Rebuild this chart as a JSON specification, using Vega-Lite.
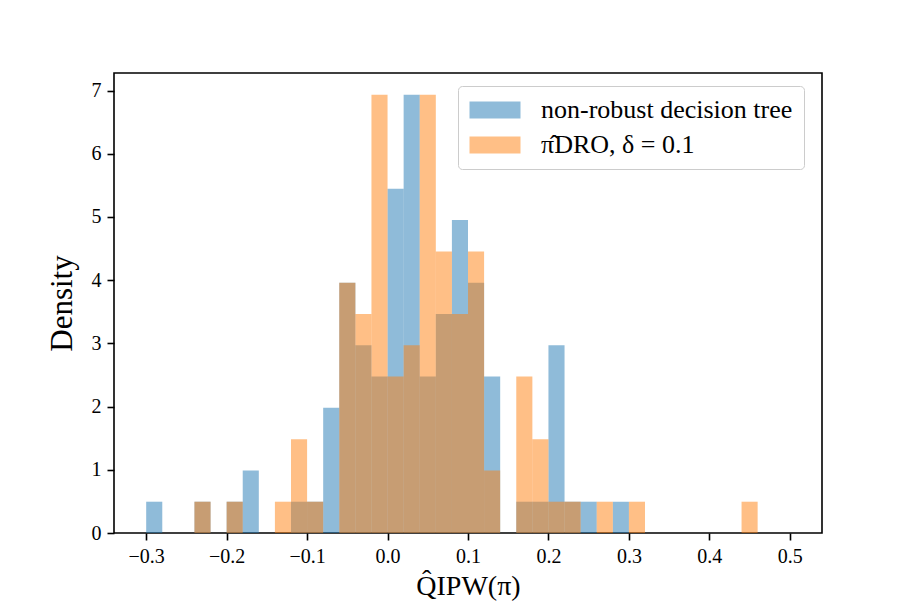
{
  "$schema": "https://vega.github.io/schema/vega-lite/v6.json",
  "width": 708,
  "height": 460,
  "autosize": "none",
  "padding": {"left": 114, "top": 73, "right": 91, "bottom": 76},
  "background": "white",
  "data": {
    "values": [
      {"series": "non-robust decision tree", "x0": -0.30, "x1": -0.28, "density": 0.495},
      {"series": "non-robust decision tree", "x0": -0.24, "x1": -0.22, "density": 0.495},
      {"series": "non-robust decision tree", "x0": -0.20, "x1": -0.18, "density": 0.495},
      {"series": "non-robust decision tree", "x0": -0.18, "x1": -0.16, "density": 0.990},
      {"series": "non-robust decision tree", "x0": -0.12, "x1": -0.10, "density": 0.495},
      {"series": "non-robust decision tree", "x0": -0.10, "x1": -0.08, "density": 0.495},
      {"series": "non-robust decision tree", "x0": -0.08, "x1": -0.06, "density": 1.980},
      {"series": "non-robust decision tree", "x0": -0.06, "x1": -0.04, "density": 3.960},
      {"series": "non-robust decision tree", "x0": -0.04, "x1": -0.02, "density": 2.970},
      {"series": "non-robust decision tree", "x0": -0.02, "x1": 0.00, "density": 2.475},
      {"series": "non-robust decision tree", "x0": 0.00, "x1": 0.02, "density": 5.446},
      {"series": "non-robust decision tree", "x0": 0.02, "x1": 0.04, "density": 6.931},
      {"series": "non-robust decision tree", "x0": 0.04, "x1": 0.06, "density": 2.475},
      {"series": "non-robust decision tree", "x0": 0.06, "x1": 0.08, "density": 3.465},
      {"series": "non-robust decision tree", "x0": 0.08, "x1": 0.10, "density": 4.950},
      {"series": "non-robust decision tree", "x0": 0.10, "x1": 0.12, "density": 3.960},
      {"series": "non-robust decision tree", "x0": 0.12, "x1": 0.14, "density": 2.475},
      {"series": "non-robust decision tree", "x0": 0.16, "x1": 0.18, "density": 0.495},
      {"series": "non-robust decision tree", "x0": 0.18, "x1": 0.20, "density": 0.495},
      {"series": "non-robust decision tree", "x0": 0.20, "x1": 0.22, "density": 2.970},
      {"series": "non-robust decision tree", "x0": 0.22, "x1": 0.24, "density": 0.495},
      {"series": "non-robust decision tree", "x0": 0.24, "x1": 0.26, "density": 0.495},
      {"series": "non-robust decision tree", "x0": 0.28, "x1": 0.30, "density": 0.495},
      {"series": "π̂DRO, δ = 0.1", "x0": -0.24, "x1": -0.22, "density": 0.495},
      {"series": "π̂DRO, δ = 0.1", "x0": -0.20, "x1": -0.18, "density": 0.495},
      {"series": "π̂DRO, δ = 0.1", "x0": -0.14, "x1": -0.12, "density": 0.495},
      {"series": "π̂DRO, δ = 0.1", "x0": -0.12, "x1": -0.10, "density": 1.485},
      {"series": "π̂DRO, δ = 0.1", "x0": -0.10, "x1": -0.08, "density": 0.495},
      {"series": "π̂DRO, δ = 0.1", "x0": -0.06, "x1": -0.04, "density": 3.960},
      {"series": "π̂DRO, δ = 0.1", "x0": -0.04, "x1": -0.02, "density": 3.465},
      {"series": "π̂DRO, δ = 0.1", "x0": -0.02, "x1": 0.00, "density": 6.931},
      {"series": "π̂DRO, δ = 0.1", "x0": 0.00, "x1": 0.02, "density": 2.475},
      {"series": "π̂DRO, δ = 0.1", "x0": 0.02, "x1": 0.04, "density": 2.970},
      {"series": "π̂DRO, δ = 0.1", "x0": 0.04, "x1": 0.06, "density": 6.931},
      {"series": "π̂DRO, δ = 0.1", "x0": 0.06, "x1": 0.08, "density": 4.455},
      {"series": "π̂DRO, δ = 0.1", "x0": 0.08, "x1": 0.10, "density": 3.465},
      {"series": "π̂DRO, δ = 0.1", "x0": 0.10, "x1": 0.12, "density": 4.455},
      {"series": "π̂DRO, δ = 0.1", "x0": 0.12, "x1": 0.14, "density": 0.990},
      {"series": "π̂DRO, δ = 0.1", "x0": 0.16, "x1": 0.18, "density": 2.475},
      {"series": "π̂DRO, δ = 0.1", "x0": 0.18, "x1": 0.20, "density": 1.485},
      {"series": "π̂DRO, δ = 0.1", "x0": 0.20, "x1": 0.22, "density": 0.495},
      {"series": "π̂DRO, δ = 0.1", "x0": 0.22, "x1": 0.24, "density": 0.495},
      {"series": "π̂DRO, δ = 0.1", "x0": 0.26, "x1": 0.28, "density": 0.495},
      {"series": "π̂DRO, δ = 0.1", "x0": 0.30, "x1": 0.32, "density": 0.495},
      {"series": "π̂DRO, δ = 0.1", "x0": 0.44, "x1": 0.46, "density": 0.495}
    ]
  },
  "mark": {"type": "rect", "opacity": 0.5, "strokeWidth": 0},
  "encoding": {
    "x": {
      "field": "x0",
      "type": "quantitative",
      "scale": {"domain": [-0.34, 0.54], "nice": false, "zero": false},
      "axis": {
        "title": "Q̂IPW(π)",
        "values": [-0.3, -0.2, -0.1, 0.0, 0.1, 0.2, 0.3, 0.4, 0.5],
        "format": ".1f",
        "titlePadding": 6
      }
    },
    "x2": {"field": "x1"},
    "y": {
      "field": "density",
      "type": "quantitative",
      "scale": {"domain": [0, 7.277], "nice": false},
      "axis": {
        "title": "Density",
        "values": [0, 1, 2, 3, 4, 5, 6, 7],
        "format": "d",
        "titlePadding": 13,
        "titleFontSize": 31
      }
    },
    "y2": {"datum": 0},
    "color": {
      "field": "series",
      "type": "nominal",
      "sort": null,
      "scale": {
        "domain": ["non-robust decision tree", "π̂DRO, δ = 0.1"],
        "range": ["#1f77b4", "#ff7f0e"]
      },
      "legend": {
        "title": null,
        "orient": "none",
        "legendX": 344,
        "legendY": 13,
        "symbolType": "M-1.47,-1H4.53V1H-1.47Z",
        "symbolSize": 289,
        "symbolOpacity": 0.5,
        "symbolStrokeWidth": 0,
        "labelOffset": 46,
        "rowPadding": 9,
        "padding": 11,
        "fillColor": "rgba(255,255,255,0.8)",
        "strokeColor": "#cccccc",
        "cornerRadius": 4,
        "labelFont": "Liberation Serif",
        "labelFontSize": 26,
        "labelColor": "black",
        "labelLimit": 400
      }
    }
  },
  "config": {
    "view": {"stroke": "black", "strokeWidth": 1.6},
    "axis": {
      "domain": false,
      "grid": false,
      "tickColor": "black",
      "tickSize": 7,
      "tickWidth": 1.6,
      "labelFont": "Liberation Serif",
      "labelFontSize": 20,
      "labelColor": "black",
      "labelPadding": 6,
      "titleFont": "Liberation Serif",
      "titleFontSize": 28,
      "titleFontWeight": "normal",
      "titleColor": "black"
    }
  }
}
